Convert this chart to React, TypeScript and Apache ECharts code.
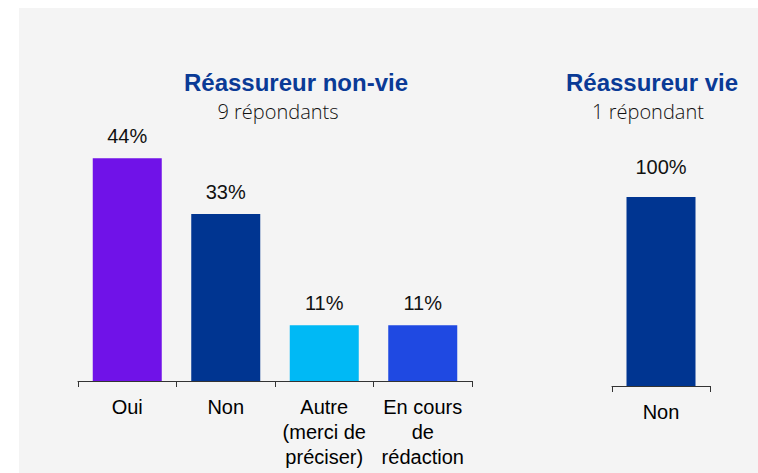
import React, { useEffect, useRef } from "react";
import * as echarts from "echarts";

const nonVieCategories = ["Oui", "Non", "Autre\n(merci de\npréciser)", "En cours\nde\nrédaction"];
const nonVieValues = [44, 33, 11, 11];
const nonVieColors = ["#7012E8", "#003591", "#00B9F5", "#1F49E2"];

const vieCategories = ["Non"];
const vieValues = [100];
const vieColors = ["#003591"];

const titleNonVie = "Réassureur non-vie";
const subNonVie = "9 répondants";
const titleVie = "Réassureur vie";
const subVie = "1 répondant";

export default function App() {
  const ref = useRef<HTMLDivElement>(null);
  useEffect(() => {
    if (!ref.current) return;
    const chart = echarts.init(ref.current, undefined, { renderer: "svg" });
    const axisLabel = {
      color: "#000",
      fontFamily: "Liberation Sans, Arial, sans-serif",
      fontSize: 20,
      lineHeight: 25,
      margin: 13,
      interval: 0,
    };
    const valueLabel = {
      show: true,
      position: "top",
      formatter: "{c}%",
      color: "#111",
      fontFamily: "Liberation Sans, Arial, sans-serif",
      fontSize: 20,
    };
    const axisTick = { show: true, length: 6, interval: 0, alignWithLabel: false, lineStyle: { color: "#333", width: 1 } };
    chart.setOption({
      animation: false,
      backgroundColor: "#ffffff",
      graphic: [
        { type: "rect", z: -10, shape: { x: 19, y: 8, width: 739, height: 465 }, style: { fill: "#f4f4f4" } },
        { type: "text", x: 296, y: 82, style: { text: titleNonVie, fill: "#0A3A96", font: "bold 24px 'Liberation Sans', Arial, sans-serif", align: "center", verticalAlign: "middle" } },
        { type: "text", x: 278, y: 111, style: { text: subNonVie, fill: "#111", font: "300 20px 'Open Sans', sans-serif", align: "center", verticalAlign: "middle" } },
        { type: "text", x: 652, y: 82, style: { text: titleVie, fill: "#0A3A96", font: "bold 24px 'Liberation Sans', Arial, sans-serif", align: "center", verticalAlign: "middle" } },
        { type: "text", x: 648, y: 111, style: { text: subVie, fill: "#111", font: "300 20px 'Open Sans', sans-serif", align: "center", verticalAlign: "middle" } },
      ],
      grid: [
        { left: 78, width: 394, top: 128, height: 253 },
        { left: 612, width: 98, top: 197, height: 189 },
      ],
      xAxis: [
        {
          type: "category", gridIndex: 0, data: nonVieCategories, boundaryGap: true,
          axisLine: { show: true, lineStyle: { color: "#333", width: 1 } },
          axisTick,
          axisLabel,
        },
        {
          type: "category", gridIndex: 1, data: vieCategories, boundaryGap: true,
          axisLine: { show: true, lineStyle: { color: "#333", width: 1 } },
          axisTick,
          axisLabel,
        },
      ],
      yAxis: [
        { type: "value", gridIndex: 0, min: 0, max: 50, show: false, splitLine: { show: false } },
        { type: "value", gridIndex: 1, min: 0, max: 100, show: false, splitLine: { show: false } },
      ],
      series: [
        {
          type: "bar", xAxisIndex: 0, yAxisIndex: 0, barWidth: 69,
          data: nonVieValues.map((v, i) => ({ value: v, itemStyle: { color: nonVieColors[i] } })),
          label: { ...valueLabel, distance: 12 },
        },
        {
          type: "bar", xAxisIndex: 1, yAxisIndex: 1, barWidth: 69,
          data: vieValues.map((v, i) => ({ value: v, itemStyle: { color: vieColors[i] } })),
          label: { ...valueLabel, distance: 20 },
        },
      ],
    });
    return () => chart.dispose();
  }, []);
  return (
    <div
      ref={ref}
      style={{ position: "fixed", left: 0, top: 0, width: 758, height: 473 }}
    />
  );
}
